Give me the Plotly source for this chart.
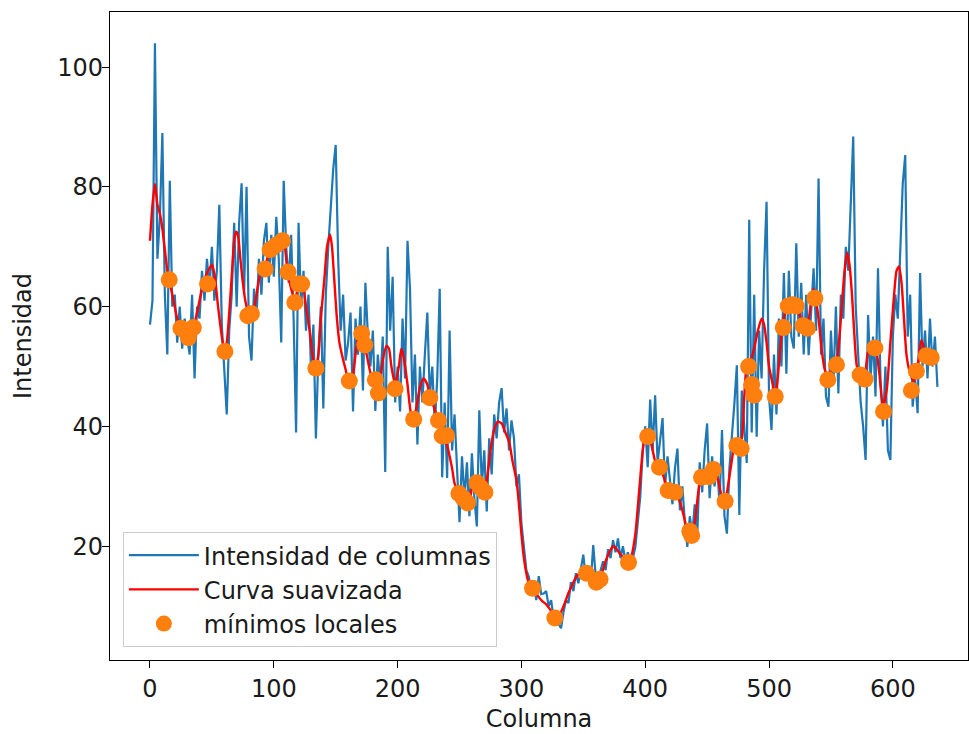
import plotly.graph_objects as go

# ---- data ----
blue_cols = list(range(0, 637, 2))
blue_vals = [
    57, 61, 104, 68, 75, 89, 62, 52, 81, 60,
    62, 54, 60, 53, 58, 55, 52, 62, 48, 60,
    58, 66, 61, 68, 63, 70, 61, 66, 77, 57,
    50, 42, 56, 62, 74, 60, 74, 80.6, 62, 80,
    55, 51, 63, 58, 68, 62, 71, 74, 64, 72,
    65, 75, 68, 54, 81, 70, 64, 72, 58, 39,
    74, 60, 66, 56, 62, 50, 57, 38, 52, 60,
    43, 62, 70, 76, 83, 87, 68, 56, 62, 51,
    54, 59, 42.5, 58, 52, 60, 46, 64, 55, 50,
    56, 42.6, 52, 47, 55, 32.4, 70, 56, 65, 44,
    50, 42.5, 58, 48, 71, 63, 44, 52, 37, 50,
    44, 52, 59, 45, 50, 40, 48, 63, 31.5, 44,
    31.4, 56, 36, 42, 32, 24, 35, 28, 34, 25,
    35.5, 28, 23.3, 42.7, 30, 36, 25.8, 38, 32, 42,
    38, 44, 46.4, 39, 43, 36, 41, 38, 30, 32,
    23.8, 20, 16, 14.9, 12, 13.5, 11, 15, 12, 12.1,
    12.5, 10, 11, 8, 9, 7, 6.3, 9, 11, 10.5,
    14, 12.5, 15.5, 13.8, 16, 18.6, 14.5, 16.5, 14, 20.2,
    15, 13.7, 16, 17.5, 16, 19.5, 18, 21, 19, 21.3,
    18, 20, 17.5, 19, 16.9, 18, 19.8, 24, 28.3, 36,
    40, 33.2, 44.5, 36, 45.2, 34, 38, 41.4, 29.9, 35,
    31, 27, 33, 36.3, 26, 30, 24, 19.9, 25, 22,
    27, 21.5, 34, 29, 36, 40.5, 28, 35, 30, 34,
    27, 39.4, 25, 22.1, 33, 38, 43.8, 50.2, 25.2, 46,
    40, 33.9, 74.5, 39, 62, 38.3, 56, 48, 66, 77.5,
    45, 39.4, 52, 42, 58, 50, 65.6, 48.8, 66, 55,
    53, 70.6, 55, 64, 52, 62, 51.9, 60, 66.4, 56,
    81.4, 52, 58, 45, 43.3, 56, 47, 60, 45.5, 62,
    58, 70, 66, 77.2, 88.4, 60, 52, 44, 40, 34.4,
    58.6, 48, 55, 45, 66.4, 48, 40, 50, 36, 34.4,
    55, 62, 58, 70, 80.6, 85.3, 55, 62, 43.3, 48,
    42.2, 65.6, 50, 56, 48, 58, 50, 55, 46.6,
]

red_cols = [0, 2, 4, 6, 8, 10, 12, 14, 16, 18, 20, 22, 25, 28, 31, 33, 35, 38, 41, 44,
            47, 50, 52, 55, 58, 60, 62, 64, 66, 68, 69.5, 71, 73, 75, 77, 80, 83, 86, 88, 90,
            93, 96, 99, 102, 105, 107, 109, 111, 114, 117, 120, 123, 126, 129, 132, 134, 136, 138, 141, 143,
            145.5, 147, 149, 151, 153, 155, 158, 160, 163, 166, 168, 170, 172, 175, 178, 180, 182, 184, 186, 188,
            191, 193, 195, 198, 201, 203, 205, 208, 211, 213, 215, 218, 221, 224, 226, 229, 232, 235, 238, 241,
            244, 246, 249, 252, 255, 257, 259, 261, 264, 267, 270, 272, 275, 278, 281, 284, 287, 290, 293, 296,
            298, 300, 302, 305, 308, 311, 314, 317, 320, 323, 326, 328, 330, 332, 335, 338, 341, 344, 347, 350,
            353, 356, 359, 362, 365, 368, 371, 374, 377, 380, 383, 386, 389, 392, 395, 398, 400, 403, 406, 409,
            412, 415, 418, 421, 424, 427, 430, 433, 436, 438, 440, 442, 444, 447, 450, 453, 456, 459, 461, 464,
            466, 469, 472, 475, 478, 480, 482, 484, 486, 488, 491, 494, 496, 498, 500, 503, 505, 507, 509, 511,
            513, 516, 519, 522, 525, 528, 531, 534, 536, 538, 540, 543, 545, 548, 551, 555, 558, 561, 563, 565,
            567, 569, 571, 574, 577, 580, 583, 586, 589, 592, 595, 598, 601, 603, 605, 607, 609, 611, 614, 617,
            620, 623, 626, 629, 632, 635]
red_vals = [71, 77, 80.5, 77, 75.5, 73, 69.5, 66, 64, 62, 60, 58, 56.4, 56, 55.3, 56, 56.5, 59, 62, 64.5,
            66, 67, 65.5, 60, 55, 52.6, 54, 59, 65, 71, 72.5, 72, 68, 64, 61, 58.6, 59, 62, 64.5, 66,
            66.7, 69, 70, 70.5, 71.5, 72, 70, 66, 63, 61, 63.5, 64, 60, 56, 51, 50, 52, 58, 65, 70,
            72, 70, 64, 58, 54, 52, 49.5, 48, 48, 52, 55, 56, 55, 52, 49, 48, 47.8, 46.5, 48, 51,
            53.5, 53, 50, 47, 50, 53, 51.5, 47, 42, 41.5, 43, 46.5, 48, 47, 45, 43.5, 41.5, 39.5, 38.5, 36,
            33, 30.5, 29, 28.2, 27.5, 27, 28.5, 30.5, 30.7, 30, 29.5, 31, 36, 39.5, 40.8, 40.5, 39, 37.5, 34, 31,
            27, 22, 18, 14.5, 13, 12.5, 11.5, 10.8, 10.3, 9.5, 8.5, 8, 8.2, 9, 10.5, 12.2, 13.5, 14.8, 15.5, 16,
            15.5, 15, 14.5, 14.3, 15.5, 17.5, 19, 20, 19.5, 18.6, 18, 17.3, 18.5, 22, 29, 36, 38.5, 38.3, 36, 33.5,
            33, 31.5, 29.5, 29.3, 29, 28, 26, 23.5, 22.3, 22, 24, 27.5, 30.5, 31.8, 31.8, 32, 32.5, 31, 29, 27.5,
            29, 33, 36.5, 37, 38, 45, 50, 50.5, 51.5, 53, 56, 58, 57, 54, 50, 47, 45, 48, 53, 57,
            59, 60.5, 61, 61, 58.5, 57, 57, 61, 63, 61, 58, 52, 49.5, 48, 50, 51.6, 58, 66, 69, 67,
            62, 55, 50, 48.8, 48, 52.5, 53, 53, 49, 43.3, 46, 54, 62, 66, 66.7, 64, 58, 52, 48.8, 47.5,
            50, 54.4, 52.5, 51.5, 51.8, 51.5]

min_cols = [15.5, 25, 28, 31, 35, 46.5, 60.5, 79, 82, 93, 97, 102, 107, 111.5, 117, 120, 122.5, 134,
            161, 171, 173.5, 182, 184.5, 198, 213, 226, 233, 236, 239.5, 249.5, 253, 256.5, 264, 267,
            270.5, 309, 327, 352.5, 360.5, 363.5, 386.5, 402, 411.5, 418.5, 424, 436, 437.5, 445.5,
            451.5, 455, 464.5, 474, 477.5, 483.5, 486, 488, 505, 511.5, 515.5, 519, 522, 527.5, 531,
            537, 547.5, 554.5, 573.5, 577.5, 585.5, 592.5, 615, 619, 627, 631]
min_vals = [64.5, 56.4, 56, 54.8, 56.5, 63.8, 52.5, 58.5, 58.8, 66.3, 69.5, 70.3, 71, 65.8, 60.7, 63.8, 63.8, 49.7,
            47.6, 55.5, 53.6, 47.8, 45.6, 46.3, 41.2, 44.8, 41, 38.4, 38.5, 28.8, 28, 27.2, 30.6, 29.8,
            29, 13, 8, 15.5, 14, 14.5, 17.3, 38.3, 33.2, 29.3, 29, 22.5, 21.8, 31.5,
            31.6, 32.8, 27.5, 36.8, 36.3, 50, 47, 45.2, 45, 56.5, 60.1, 60.3, 60.1, 56.8, 56.4,
            61.4, 47.8, 50.3, 48.6, 47.9, 53.1, 42.5, 46, 49.2, 51.8, 51.5]

x_ticks = [0, 100, 200, 300, 400, 500, 600]
y_ticks = [20, 40, 60, 80, 100]
x_range = [-32.3, 660.7]
y_range = [1.0, 109.2]

assert len(blue_cols) == len(blue_vals)
assert len(red_cols) == len(red_vals)
assert len(min_cols) == len(min_vals)

FONT = "DejaVu Sans"
FS = 24
TXT = "#1a1a1a"

fig = go.Figure()
fig.add_trace(go.Scatter(x=blue_cols, y=blue_vals, mode="lines",
                         line=dict(color="#1f77b4", width=2.2),
                         name="Intensidad de columnas"))
fig.add_trace(go.Scatter(x=red_cols, y=red_vals, mode="lines",
                         line=dict(color="#ff0000", width=2.4, shape="spline", smoothing=0.6),
                         name="Curva suavizada"))
fig.add_trace(go.Scatter(x=min_cols, y=min_vals, mode="markers",
                         marker=dict(color="#ff7f0e", size=17),
                         name="mínimos locales"))

axis_common = dict(ticks="outside", ticklen=7, tickwidth=1.2, tickcolor="black",
                   showline=True, linecolor="black", linewidth=1.2, mirror=True,
                   showgrid=False, zeroline=False, automargin=False,
                   tickfont=dict(family=FONT, size=FS, color=TXT))

fig.update_layout(
    width=969, height=734,
    margin=dict(l=110, r=1, t=12, b=74, autoexpand=False),
    plot_bgcolor="white", paper_bgcolor="white",
    font=dict(family=FONT, size=FS, color=TXT),
    legend=dict(x=0.015, y=0.02, xanchor="left", yanchor="bottom",
                bgcolor="rgba(255,255,255,0.8)", bordercolor="#cccccc", borderwidth=1,
                itemwidth=70,
                font=dict(family=FONT, size=FS, color=TXT)),
    xaxis=dict(range=x_range, tickvals=x_ticks, **axis_common,
               title=dict(text="Columna", standoff=8,
                          font=dict(family=FONT, size=FS, color=TXT))),
    yaxis=dict(range=y_range, tickvals=y_ticks, ticklabelstandoff=-6, **axis_common,
               title=dict(text="Intensidad", standoff=18,
                          font=dict(family=FONT, size=FS, color=TXT))),
)

fig.write_html("out.html",
               config={"displayModeBar": False},
               post_script="document.body.style.margin='0';document.body.style.padding='0';")
